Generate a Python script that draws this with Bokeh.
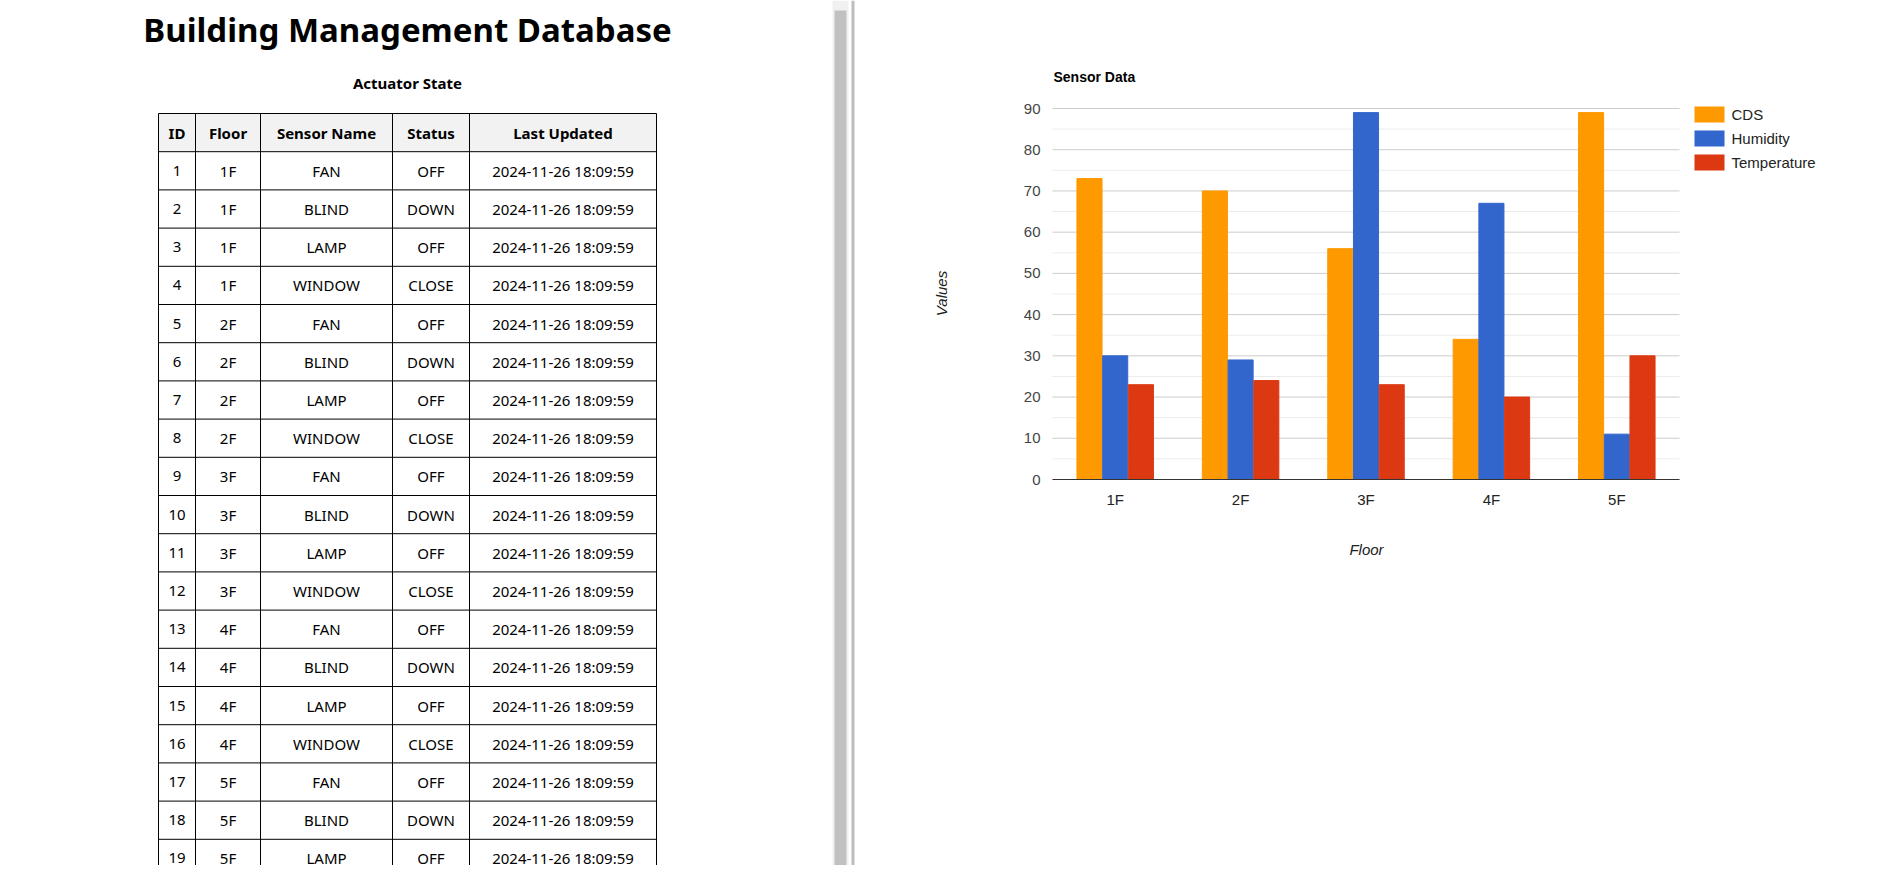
import math
from bokeh.plotting import figure
from bokeh.models import Range1d
from bokeh.core.properties import value
from bokeh.embed import file_html
from bokeh.resources import INLINE

# table data
ids = [str(i) for i in range(1, 20)]
floors_t = ["1F"] * 4 + ["2F"] * 4 + ["3F"] * 4 + ["4F"] * 4 + ["5F"] * 3
sensors = ["FAN", "BLIND", "LAMP", "WINDOW"] * 4 + ["FAN", "BLIND", "LAMP"]
status_map = {"FAN": "OFF", "BLIND": "DOWN", "LAMP": "OFF", "WINDOW": "CLOSE"}
statuses = [status_map[s] for s in sensors]
updated = ["2024-11-26 18:09:59"] * 19
headers = ["ID", "Floor", "Sensor Name", "Status", "Last Updated"]

# chart data
floors = ["1F", "2F", "3F", "4F", "5F"]
cds = [73, 70, 56, 34, 89]
humidity = [30, 29, 89, 67, 11]
temperature = [23, 24, 23, 20, 30]
series_names = ["CDS", "Humidity", "Temperature"]
series_colors = ["#ff9900", "#3366cc", "#dc3912"]
y_ticks = list(range(0, 91, 10))
y_minor = list(range(5, 90, 10))

FONT = value("Noto Sans")
ARIAL = value("Liberation Sans")

# chart area on the page: x 1060..1687, y 116..487 (page pixels)
px_per_cat = (1687 - 1060) / len(floors)
px_per_val = (487 - 116) / 90
p = figure(width=1884, height=865,
           x_range=Range1d(-(1060 - 8) / px_per_cat, len(floors) + (1892 - 1687) / px_per_cat),
           y_range=Range1d(-(873 - 487) / px_per_val, 90 + (116 - 8) / px_per_val),
           output_backend="svg", toolbar_location=None, min_border=0)
p.extra_x_ranges = {"px": Range1d(8, 1892)}
p.extra_y_ranges = {"px": Range1d(873, 8)}
p.axis.visible = False
p.grid.visible = False
p.outline_line_color = None
PX = dict(x_range_name="px", y_range_name="px")

# ---- left panel: title + table
p.text([415], [37], text=["Building Management Database"], text_font=FONT,
       text_font_size="33px", text_font_style="bold", text_align="center", text_baseline="middle", **PX)
p.text([415], [90], text=["Actuator State"], text_font=FONT,
       text_font_size="15px", text_font_style="bold", text_align="center", text_baseline="middle", **PX)

cols = [166, 203, 268, 400, 477, 664]
top, rh = 121, 38.2
nrows = len(ids) + 1
bottom = top + rh * nrows
p.quad(left=[cols[0]], right=[cols[-1]], top=[top], bottom=[top + rh], fill_color="#f2f2f2",
       line_color=None, **PX)
for c in cols:
    p.segment(c, top, c, bottom, line_color="black", line_width=1, **PX)
for r in range(nrows + 1):
    y = top + r * rh
    p.segment(cols[0], y, cols[-1], y, line_color="black", line_width=1, **PX)
centers = [(cols[i] + cols[i + 1]) / 2 for i in range(5)]
p.text(centers, [top + rh / 2] * 5, text=headers, text_font=FONT, text_font_size="15px",
       text_font_style="bold", text_align="center", text_baseline="middle", **PX)
for ci, colvals in enumerate([ids, floors_t, sensors, statuses, updated]):
    ys = [top + rh * (i + 1.5) for i in range(len(colvals))]
    p.text([centers[ci]] * len(colvals), ys, text=colvals, text_font=FONT, text_font_size="15px",
           text_align="center", text_baseline="middle", **PX)

# scrollbar and divider
p.quad(left=[840], right=[856], top=[8], bottom=[873], fill_color="#f1f1f1", line_color=None, **PX)
p.quad(left=[842], right=[854], top=[18], bottom=[873], fill_color="#c1c1c1", line_color=None, **PX)
p.quad(left=[859], right=[862], top=[8], bottom=[873], fill_color="#bdbdbd", line_color=None, **PX)

# ---- chart (data coordinates)
n = len(floors)
p.segment([0] * len(y_minor), y_minor, [n] * len(y_minor), y_minor, line_color="#ebebeb")
p.segment([0] * len(y_ticks), y_ticks, [n] * len(y_ticks), y_ticks, line_color="#cccccc")
p.text([0] * len(y_ticks), y_ticks, text=[str(t) for t in y_ticks], x_offset=-12,
       text_font=ARIAL, text_font_size="15px", text_color="#444444",
       text_align="right", text_baseline="middle")

centers_x = [i + 0.5 for i in range(n)]
for k, (vals, color) in enumerate(zip([cds, humidity, temperature], series_colors)):
    p.vbar(x=[c + (k - 1) * 0.205 for c in centers_x], top=vals, bottom=0, width=0.2,
           color=color)
p.segment([0], [0], [n], [0], line_color="#333333", line_width=1.2)
p.text(centers_x, [0] * n, text=floors, y_offset=20, text_font=ARIAL, text_font_size="15px",
       text_color="#222222", text_align="center", text_baseline="middle")

p.text([1061], [84], text=["Sensor Data"], text_font=ARIAL, text_font_size="14px",
       text_font_style="bold", text_baseline="middle", **PX)
p.text([1374], [557], text=["Floor"], text_font=ARIAL, text_font_size="15px",
       text_font_style="italic", text_color="#222222", text_align="center", text_baseline="middle", **PX)
p.text([949], [301], text=["Values"], angle=math.pi / 2, text_font=ARIAL, text_font_size="15px",
       text_font_style="italic", text_color="#222222", text_align="center", text_baseline="middle", **PX)

# legend
leg_y = [122, 146, 170]
p.quad(left=[1702] * 3, right=[1732] * 3, top=[y - 8 for y in leg_y], bottom=[y + 8 for y in leg_y],
       fill_color=series_colors, line_color=None, **PX)
p.text([1739] * 3, leg_y, text=series_names, text_font=ARIAL, text_font_size="15px",
       text_color="#222222", text_baseline="middle", **PX)

open("out.html", "w").write(file_html(p, INLINE))
